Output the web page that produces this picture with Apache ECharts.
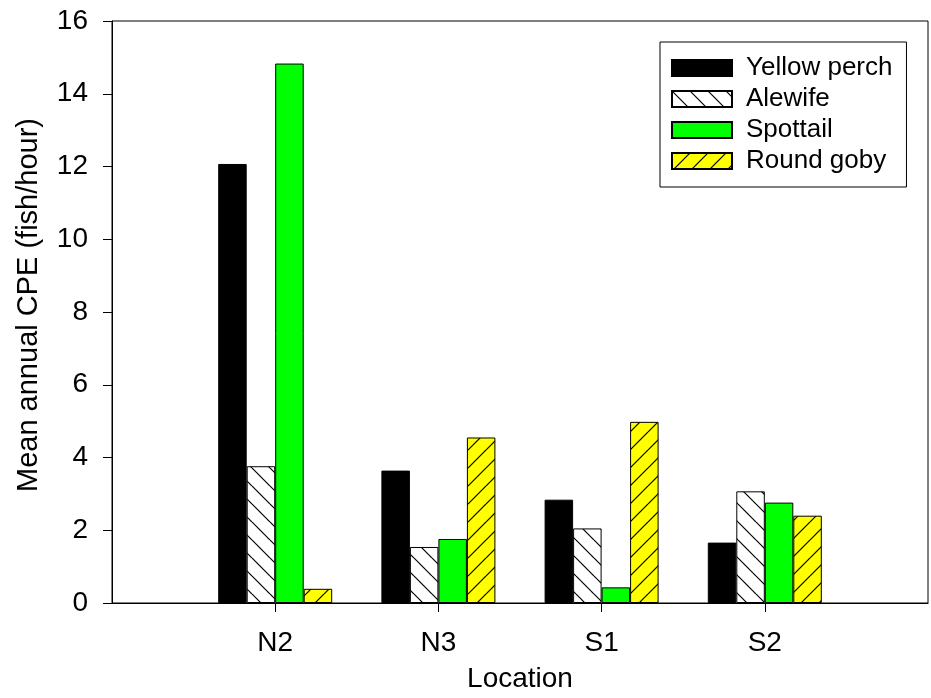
<!DOCTYPE html>
<html>
<head>
<meta charset="utf-8">
<script src="https://cdn.jsdelivr.net/npm/echarts@6/dist/echarts.min.js"></script>
<style>
  html, body { margin: 0; padding: 0; background: #fff; }
  #chart { width: 931px; height: 698px; }
</style>
</head>
<body>
<div id="chart"></div>
<script>
// Locations sampled and mean annual catch per effort (fish/hour)
const locations = ['N2', 'N3', 'S1', 'S2'];
const yellowPerch = [12.07, 3.64, 2.84, 1.66];
const alewife = [3.76, 1.54, 2.05, 3.07];
const spottail = [14.83, 1.76, 0.43, 2.76];
const roundGoby = [0.39, 4.55, 4.98, 2.40];
const yTicks = { min: 0, max: 16, step: 2 };

const FONT = 'Arial, "Liberation Sans", sans-serif';

// Diagonal hatch tile; dir = 1 draws "\" lines, dir = -1 draws "/" lines
function hatch(bg, dir) {
  const s = 18;
  const c = document.createElement('canvas');
  c.width = s; c.height = s;
  const g = c.getContext('2d');
  g.fillStyle = bg;
  g.fillRect(0, 0, s, s);
  g.strokeStyle = '#000';
  g.lineWidth = 1.2;
  for (const k of [-s, 0, s]) {
    g.beginPath();
    if (dir > 0) { g.moveTo(0, k); g.lineTo(s, s + k); }
    else { g.moveTo(0, s + k); g.lineTo(s, k); }
    g.stroke();
  }
  return { image: c, repeat: 'repeat' };
}

// pad one empty slot on each side so the locations sit at 1..4 on a 0..5 axis
const cats = [''].concat(locations, ['']);
const pad = arr => ['-'].concat(arr, ['-']);

function barSeries(name, data, color) {
  return {
    name: name,
    type: 'bar',
    data: pad(data),
    barWidth: 28.5,
    barGap: '0%',
    itemStyle: { color: color, borderColor: '#000', borderWidth: 1 }
  };
}

const chart = echarts.init(document.getElementById('chart'), null, { renderer: 'canvas' });
chart.setOption({
  animation: false,
  backgroundColor: '#fff',
  grid: {
    left: 112, right: 2, top: 21, bottom: 93,
    show: true, borderColor: '#000', borderWidth: 1, backgroundColor: 'transparent'
  },
  legend: {
    orient: 'vertical',
    left: 660, top: 42,
    itemWidth: 60, itemHeight: 16, itemGap: 5,
    padding: [13, 14, 13, 11],
    borderColor: '#000', borderWidth: 1,
    icon: 'rect',
    textStyle: { fontFamily: FONT, fontSize: 26, color: '#000', padding: [0, 0, 0, 9] },
    data: ['Yellow perch', 'Alewife', 'Spottail', 'Round goby']
  },
  xAxis: {
    type: 'category',
    data: cats,
    boundaryGap: false,
    name: 'Location',
    nameLocation: 'middle',
    nameGap: 62,
    nameTextStyle: { fontFamily: FONT, fontSize: 28, color: '#000' },
    axisLine: { lineStyle: { color: '#000', width: 1 } },
    axisTick: {
      length: 9, inside: false,
      interval: (i) => i > 0 && i < cats.length - 1,
      lineStyle: { color: '#000', width: 1 }
    },
    axisLabel: {
      interval: 0, margin: 26,
      fontFamily: FONT, fontSize: 28, color: '#000'
    },
    splitLine: { show: false }
  },
  yAxis: {
    type: 'value',
    min: yTicks.min, max: yTicks.max, interval: yTicks.step,
    name: 'Mean annual CPE (fish/hour)',
    nameLocation: 'middle',
    nameGap: 69,
    nameTextStyle: { fontFamily: FONT, fontSize: 29, color: '#000', padding: [0, 0, 0, 14] },
    axisLine: { show: true, lineStyle: { color: '#000', width: 1 } },
    axisTick: { show: true, length: 9, inside: false, lineStyle: { color: '#000', width: 1 } },
    axisLabel: { margin: 24, fontFamily: FONT, fontSize: 28, color: '#000' },
    splitLine: { show: false }
  },
  series: [
    barSeries('Yellow perch', yellowPerch, '#000000'),
    barSeries('Alewife', alewife, hatch('#ffffff', 1)),
    barSeries('Spottail', spottail, '#00ff00'),
    barSeries('Round goby', roundGoby, hatch('#ffff00', -1))
  ]
});
</script>
</body>
</html>
